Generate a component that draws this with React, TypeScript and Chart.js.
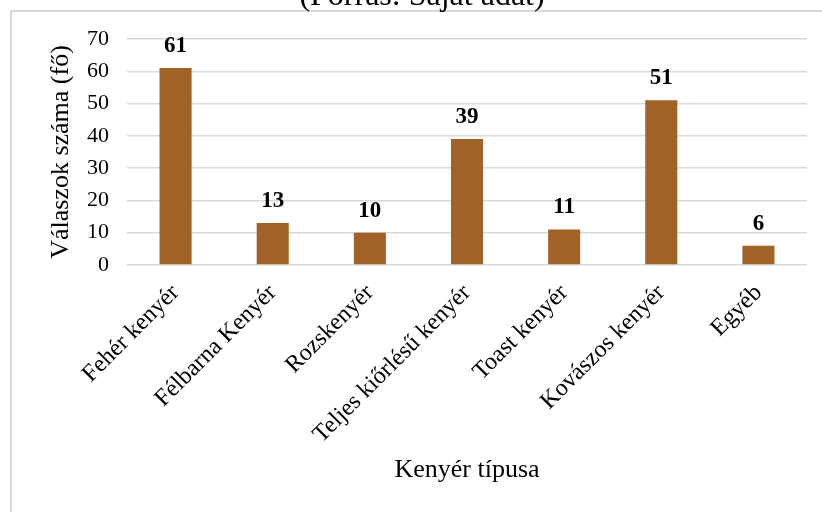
import React, { useEffect, useRef } from "react";
import { Chart, registerables } from "chart.js";

Chart.register(...registerables);

const categories = [
  "Fehér kenyér",
  "Félbarna Kenyér",
  "Rozskenyér",
  "Teljes kiőrlésű kenyér",
  "Toast kenyér",
  "Kovászos kenyér",
  "Egyéb",
];
const values = [61, 13, 10, 39, 11, 51, 6];
const yTicks = [0, 10, 20, 30, 40, 50, 60, 70];
const chartTitle = "(Forrás: Saját adat)";
const xTitle = "Kenyér típusa";
const yTitle = "Válaszok száma (fő)";

const FONT = "'Liberation Serif', 'Times New Roman', serif";

const framePlugin = {
  id: "frame",
  beforeDraw(chart: any) {
    const ctx = chart.ctx;
    ctx.save();
    ctx.strokeStyle = "#d9d9d9";
    ctx.lineWidth = 2;
    ctx.beginPath();
    ctx.moveTo(11, 512);
    ctx.lineTo(11, 11);
    ctx.lineTo(822, 11);
    ctx.stroke();
    ctx.fillStyle = "#000";
    ctx.font = `32px ${FONT}`;
    ctx.textAlign = "center";
    ctx.textBaseline = "alphabetic";
    ctx.fillText(chartTitle, 422, 5);
    ctx.restore();
  },
};

const labelPlugin = {
  id: "valueLabels",
  afterDatasetsDraw(chart: any) {
    const ctx = chart.ctx;
    const meta = chart.getDatasetMeta(0);
    ctx.save();
    ctx.fillStyle = "#000";
    ctx.font = `bold 23px ${FONT}`;
    ctx.textAlign = "center";
    ctx.textBaseline = "alphabetic";
    meta.data.forEach((bar: any, i: number) => {
      ctx.fillText(String(values[i]), bar.x, bar.y - 16);
    });
    ctx.restore();
  },
};

export default function App() {
  const ref = useRef<HTMLCanvasElement>(null);
  useEffect(() => {
    if (!ref.current) return;
    const chart = new Chart(ref.current, {
      type: "bar",
      data: {
        labels: categories,
        datasets: [
          {
            data: values,
            backgroundColor: "#A16227",
            categoryPercentage: 1,
            barPercentage: 0.33,
          },
        ],
      },
      options: {
        animation: false,
        responsive: false,
        devicePixelRatio: 1,
        layout: { padding: { left: 46, top: 39, right: 15, bottom: 20 } },
        plugins: {
          legend: { display: false },
          tooltip: { enabled: false },
          title: { display: false },
        },
        scales: {
          x: {
            grid: { display: false },
            border: { display: false },
            ticks: {
              color: "#000",
              font: { family: FONT, size: 24 },
              maxRotation: 45,
              minRotation: 45,
              padding: 6,
            },
            title: {
              display: true,
              text: xTitle,
              color: "#000",
              font: { family: FONT, size: 26 },
              padding: { top: 0, bottom: 6 },
            },
            afterFit(scale: any) {
              scale.height = 512 - 265 - 20;
            },
          },
          y: {
            min: 0,
            max: 70,
            afterBuildTicks(scale: any) {
              scale.ticks = yTicks.map((v) => ({ value: v }));
            },
            grid: { color: "#d9d9d9", lineWidth: 1.5, drawTicks: false },
            border: { display: false },
            ticks: {
              color: "#000",
              font: { family: FONT, size: 22 },
              padding: 18,
            },
            title: {
              display: true,
              text: yTitle,
              color: "#000",
              font: { family: FONT, size: 26 },
              padding: { top: 0, bottom: 0 },
            },
            afterFit(scale: any) {
              scale.width = 127 - 46;
            },
          },
        },
      },
      plugins: [framePlugin, labelPlugin],
    });
    return () => chart.destroy();
  }, []);
  return (
    <div style={{ position: "fixed", left: 0, top: 0, width: 822, height: 512, background: "#fff" }}>
      <canvas ref={ref} width={822} height={512} style={{ display: "block" }} />
    </div>
  );
}
